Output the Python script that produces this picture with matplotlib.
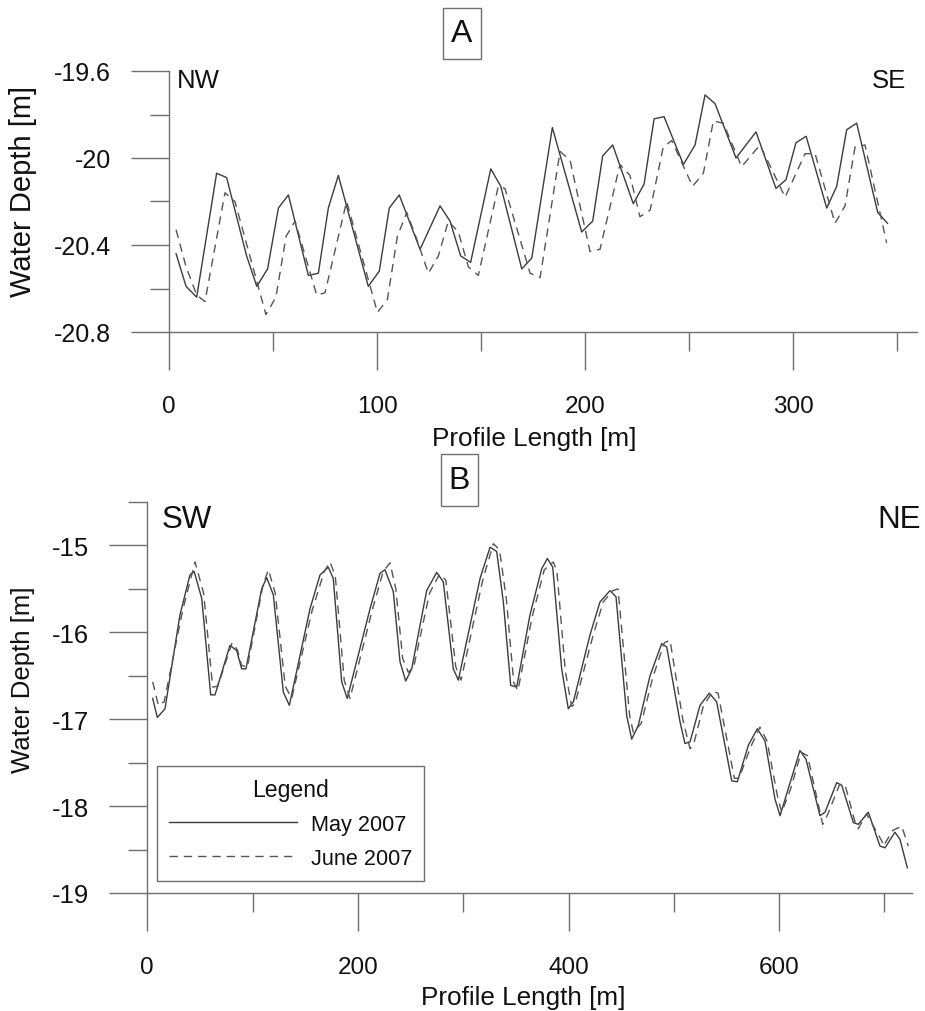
import matplotlib
matplotlib.use('Agg')
import matplotlib.pyplot as plt
from matplotlib.patches import Rectangle

plt.rcParams['font.family'] = ['Liberation Sans', 'DejaVu Sans']

# ---------------- data ----------------
# Panel A (NW -> SE)
xA_may = [3.4, 8.2, 13.3, 22.9, 27.7, 37.3, 42.2, 47.4, 52.6, 57.4, 67.0, 71.8, 76.6, 81.4,
          95.8, 101.1, 105.9, 110.7, 120.7, 130.3, 135.1, 140.2, 145.0, 154.7, 159.5, 169.6,
          174.4, 184.3, 198.4, 203.7, 208.5, 213.3, 223.2, 228.4, 233.2, 238.0, 247.3, 252.9,
          257.7, 262.5, 272.6, 277.4, 282.2, 291.8, 296.6, 301.4, 306.3, 316.2, 321.0, 325.8,
          330.6, 340.7, 345.4]
yA_may = [-20.44, -20.59, -20.64, -20.07, -20.09, -20.45, -20.59, -20.51, -20.23, -20.17,
          -20.54, -20.53, -20.23, -20.08, -20.59, -20.52, -20.23, -20.17, -20.42, -20.22,
          -20.29, -20.45, -20.48, -20.05, -20.13, -20.51, -20.46, -19.86, -20.34, -20.29,
          -19.99, -19.94, -20.21, -20.12, -19.82, -19.81, -20.03, -19.94, -19.71, -19.75,
          -20.00, -19.94, -19.88, -20.14, -20.10, -19.93, -19.90, -20.23, -20.13, -19.87,
          -19.84, -20.25, -20.30]
xA_jun = [3.4, 8.2, 13.3, 17.3, 26.9, 31.7, 46.6, 51.4, 56.3, 60.6, 71.0, 75.0, 85.4, 100.2,
          105.0, 109.8, 114.3, 119.0, 124.7, 129.5, 134.3, 139.1, 143.9, 148.7, 158.3, 161.5,
          173.6, 178.4, 188.0, 192.8, 202.4, 207.2, 216.8, 221.6, 226.4, 231.3, 237.6, 241.7,
          251.7, 256.9, 261.7, 266.5, 275.3, 284.1, 296.2, 305.8, 310.6, 320.2, 325.0, 329.8,
          334.6, 345.0]
yA_jun = [-20.33, -20.50, -20.63, -20.66, -20.16, -20.20, -20.72, -20.64, -20.36, -20.29,
          -20.63, -20.62, -20.20, -20.71, -20.65, -20.36, -20.25, -20.37, -20.53, -20.45,
          -20.29, -20.34, -20.50, -20.54, -20.13, -20.14, -20.53, -20.55, -19.97, -20.01,
          -20.43, -20.42, -20.03, -20.08, -20.27, -20.24, -19.95, -19.92, -20.13, -20.07,
          -19.83, -19.84, -20.04, -19.94, -20.18, -19.98, -19.98, -20.30, -20.22, -19.95,
          -19.94, -20.39]

# Panel B (SW -> NE)
xB_may = [5.1, 9.5, 16.8, 31.0, 40.5, 44.5, 51.7, 60.2, 64.3, 78.5, 84.9, 89.6, 93.7, 108.6,
          113.4, 119.7, 129.2, 134.9, 154.5, 164.0, 171.9, 176.6, 184.6, 189.9, 211.5, 221.0,
          225.7, 233.6, 240.0, 245.4, 251.1, 265.3, 274.8, 281.1, 290.6, 295.4, 316.0, 325.5,
          331.8, 338.1, 345.1, 350.8, 363.4, 374.5, 379.9, 385.0, 393.5, 399.8, 404.6, 420.4,
          429.9, 439.4, 445.1, 455.3, 460.0, 466.3, 477.4, 488.5, 493.3, 505.9, 510.6, 515.4,
          524.9, 533.7, 540.7, 555.0, 560.3, 570.8, 579.3, 586.6, 596.1, 600.9, 608.7, 619.8,
          625.5, 638.8, 643.6, 654.7, 659.5, 670.5, 675.2, 684.7, 695.8, 700.6, 710.0, 714.7,
          721.8]
yB_may = [-16.76, -16.98, -16.88, -15.80, -15.34, -15.30, -15.61, -16.72, -16.72, -16.15,
          -16.21, -16.42, -16.42, -15.50, -15.37, -15.57, -16.69, -16.84, -15.73, -15.34,
          -15.25, -15.38, -16.57, -16.76, -15.73, -15.32, -15.28, -15.53, -16.34, -16.56,
          -16.42, -15.52, -15.31, -15.42, -16.42, -16.55, -15.38, -15.02, -15.07, -15.65,
          -16.61, -16.63, -15.80, -15.27, -15.15, -15.25, -16.42, -16.88, -16.80, -16.03,
          -15.65, -15.52, -15.59, -16.96, -17.23, -17.07, -16.50, -16.13, -16.17, -17.03,
          -17.28, -17.26, -16.84, -16.70, -16.80, -17.71, -17.72, -17.30, -17.11, -17.25,
          -17.92, -18.11, -17.80, -17.36, -17.46, -18.11, -18.07, -17.73, -17.76, -18.19,
          -18.21, -18.07, -18.46, -18.48, -18.30, -18.38, -18.71]
xB_jun = [5.1, 10.5, 16.0, 33.5, 45.3, 53.5, 62.1, 67.0, 80.5, 85.5, 89.6, 95.0, 110.0, 115.0,
          121.5, 131.0, 137.1, 156.5, 168.0, 173.5, 178.5, 187.0, 192.5, 213.5, 224.0, 230.5,
          236.0, 242.5, 247.9, 253.0, 268.0, 277.5, 283.5, 293.0, 298.0, 318.5, 328.6, 334.5,
          341.0, 348.0, 352.0, 365.5, 377.0, 385.6, 389.0, 397.0, 403.0, 406.0, 423.0, 433.0,
          442.0, 447.0, 458.0, 461.5, 469.0, 480.0, 491.0, 496.4, 508.5, 515.4, 519.0, 528.0,
          537.0, 542.0, 557.5, 561.9, 573.0, 581.8, 588.5, 599.0, 602.5, 611.0, 621.0, 627.0,
          641.4, 646.0, 657.5, 662.7, 672.5, 675.2, 683.0, 697.5, 699.0, 708.0, 716.4, 722.7]
yB_jun = [-16.57, -16.84, -16.80, -15.75, -15.19, -15.55, -16.63, -16.62, -16.12, -16.20,
          -16.38, -16.40, -15.45, -15.28, -15.55, -16.62, -16.76, -15.75, -15.30, -15.19,
          -15.35, -16.55, -16.76, -15.75, -15.30, -15.20, -15.50, -16.30, -16.46, -16.40,
          -15.55, -15.33, -15.40, -16.40, -16.55, -15.40, -14.98, -15.05, -15.62, -16.58,
          -16.67, -15.82, -15.28, -15.19, -15.30, -16.45, -16.85, -16.83, -16.05, -15.65,
          -15.52, -15.50, -16.95, -17.15, -17.05, -16.52, -16.12, -16.09, -17.00, -17.34,
          -17.28, -16.85, -16.68, -16.70, -17.68, -17.68, -17.32, -17.09, -17.25, -17.92,
          -18.07, -17.80, -17.38, -17.42, -18.21, -18.10, -17.75, -17.76, -18.20, -18.26,
          -18.09, -18.40, -18.46, -18.28, -18.23, -18.46]

# ticks
xA_major = [0, 100, 200, 300]
xA_minor = [50, 150, 250, 350]
yA_major = [-20.8, -20.4, -20.0, -19.6]
yA_major_labels = ['-20.8', '-20.4', '-20', '-19.6']
yA_minor = [-20.6, -20.2, -19.8]
xB_major = [0, 200, 400, 600]
xB_minor = [100, 300, 500, 700]
yB_major = [-19, -18, -17, -16, -15]
yB_major_labels = ['-19', '-18', '-17', '-16', '-15']
yB_minor = [-18.5, -17.5, -16.5, -15.5, -14.5]

series_labels = ['May 2007', 'June 2007']

# ---------------- figure ----------------
W, H = 925, 1012
fig = plt.figure(figsize=(W / 100, H / 100), dpi=100)
fig.patch.set_facecolor('white')


def fx(px):
    return px / W


def fy(py):
    return 1 - py / H


GRAY = '#6e6e6e'
TXT = '#111111'

axA = fig.add_axes([fx(169), fy(333), fx(917) - fx(169), fy(72) - fy(333)])
axB = fig.add_axes([fx(147.3), fy(894), fx(912) - fx(147.3), fy(503) - fy(894)])


def style(ax, xlim, ylim, xmaj, xmin, ymaj, ymaj_lab, ymin, ylabsize):
    ax.set_xlim(*xlim)
    ax.set_ylim(*ylim)
    for s in ['top', 'right']:
        ax.spines[s].set_visible(False)
    for s in ['left', 'bottom']:
        ax.spines[s].set_color(GRAY)
        ax.spines[s].set_linewidth(1.0)
    ax.set_xticks(xmaj)
    ax.set_xticklabels([str(v) for v in xmaj])
    ax.set_xticks(xmin, minor=True)
    ax.set_yticks(ymaj)
    ax.set_yticklabels(ymaj_lab)
    ax.set_yticks(ymin, minor=True)
    ax.tick_params(which='major', length=27.4, width=1.0, color=GRAY, direction='out')
    ax.tick_params(which='minor', length=13.7, width=1.0, color=GRAY, direction='out')
    ax.tick_params(axis='y', which='major', pad=14.5, labelsize=ylabsize, labelcolor=TXT)
    ax.tick_params(axis='x', which='major', pad=18, labelsize=17.5, labelcolor=TXT)
    ax.set_facecolor('none')


style(axA, (0, 359.6), (-20.8, -19.6), xA_major, xA_minor, yA_major, yA_major_labels, yA_minor, 18)
style(axB, (0, 726.2), (-19.0, -14.5), xB_major, xB_minor, yB_major, yB_major_labels, yB_minor, 18.5)

for ax in (axA, axB):
    for t in ax.get_xticklabels() + ax.get_yticklabels():
        t.set_clip_on(False)

solid_kw = dict(color='#3c3c3c', lw=1.0, solid_joinstyle='round')
dash_kw = dict(color='#555555', lw=1.0, dashes=(6, 4.3))

axA.plot(xA_may, yA_may, label=series_labels[0], **solid_kw)
axA.plot(xA_jun, yA_jun, label=series_labels[1], **dash_kw)
lB1, = axB.plot(xB_may, yB_may, label=series_labels[0], **solid_kw)
lB2, = axB.plot(xB_jun, yB_jun, label=series_labels[1], **dash_kw)
for ax in (axA, axB):
    for ln in ax.get_lines():
        ln.set_clip_on(False)

# axis labels
fig.text(fx(23), fy(191), 'Water Depth [m]', rotation=90, ha='center', va='center',
         fontsize=21, color=TXT)
fig.text(fx(23), fy(680), 'Water Depth [m]', rotation=90, ha='center', va='center',
         fontsize=18.5, color=TXT)
fig.text(fx(534), fy(439), 'Profile Length [m]', ha='center', va='center', fontsize=18.8, color=TXT)
fig.text(fx(523), fy(998), 'Profile Length [m]', ha='center', va='center', fontsize=18.8, color=TXT)

# direction labels
fig.text(fx(177), fy(81), 'NW', ha='left', va='center', fontsize=18.5, color=TXT)
fig.text(fx(906), fy(81), 'SE', ha='right', va='center', fontsize=18.5, color=TXT)
fig.text(fx(162), fy(520), 'SW', ha='left', va='center', fontsize=22.5, color=TXT)
fig.text(fx(921), fy(520), 'NE', ha='right', va='center', fontsize=22.5, color=TXT)

# panel boxes


def panel_box(x0, y0, x1, y1, letter):
    r = Rectangle((fx(x0), fy(y1)), fx(x1) - fx(x0), fy(y0) - fy(y1),
                  transform=fig.transFigure, fill=False, edgecolor=GRAY, lw=1.0)
    fig.patches.append(r)
    fig.text(fx((x0 + x1) / 2), fy((y0 + y1) / 2), letter, ha='center', va='center',
             fontsize=23, color=TXT)


panel_box(443, 9, 481, 60, 'A')
panel_box(441, 455, 478, 507, 'B')

# legend
leg = axB.legend(handles=[lB1, lB2], labels=series_labels, title='Legend',
                 loc='upper left', bbox_to_anchor=(fx(157), fy(767)),
                 bbox_transform=fig.transFigure, borderaxespad=0,
                 fontsize=15.6, title_fontsize=16.6, handlelength=5.9,
                 handletextpad=0.65, borderpad=0.55, labelspacing=0.6,
                 fancybox=False, framealpha=1, edgecolor=GRAY)
leg.get_frame().set_linewidth(1.0)
for t in leg.get_texts():
    t.set_color(TXT)
leg.get_title().set_color(TXT)

fig.savefig('out.png', dpi=100, facecolor='white')
